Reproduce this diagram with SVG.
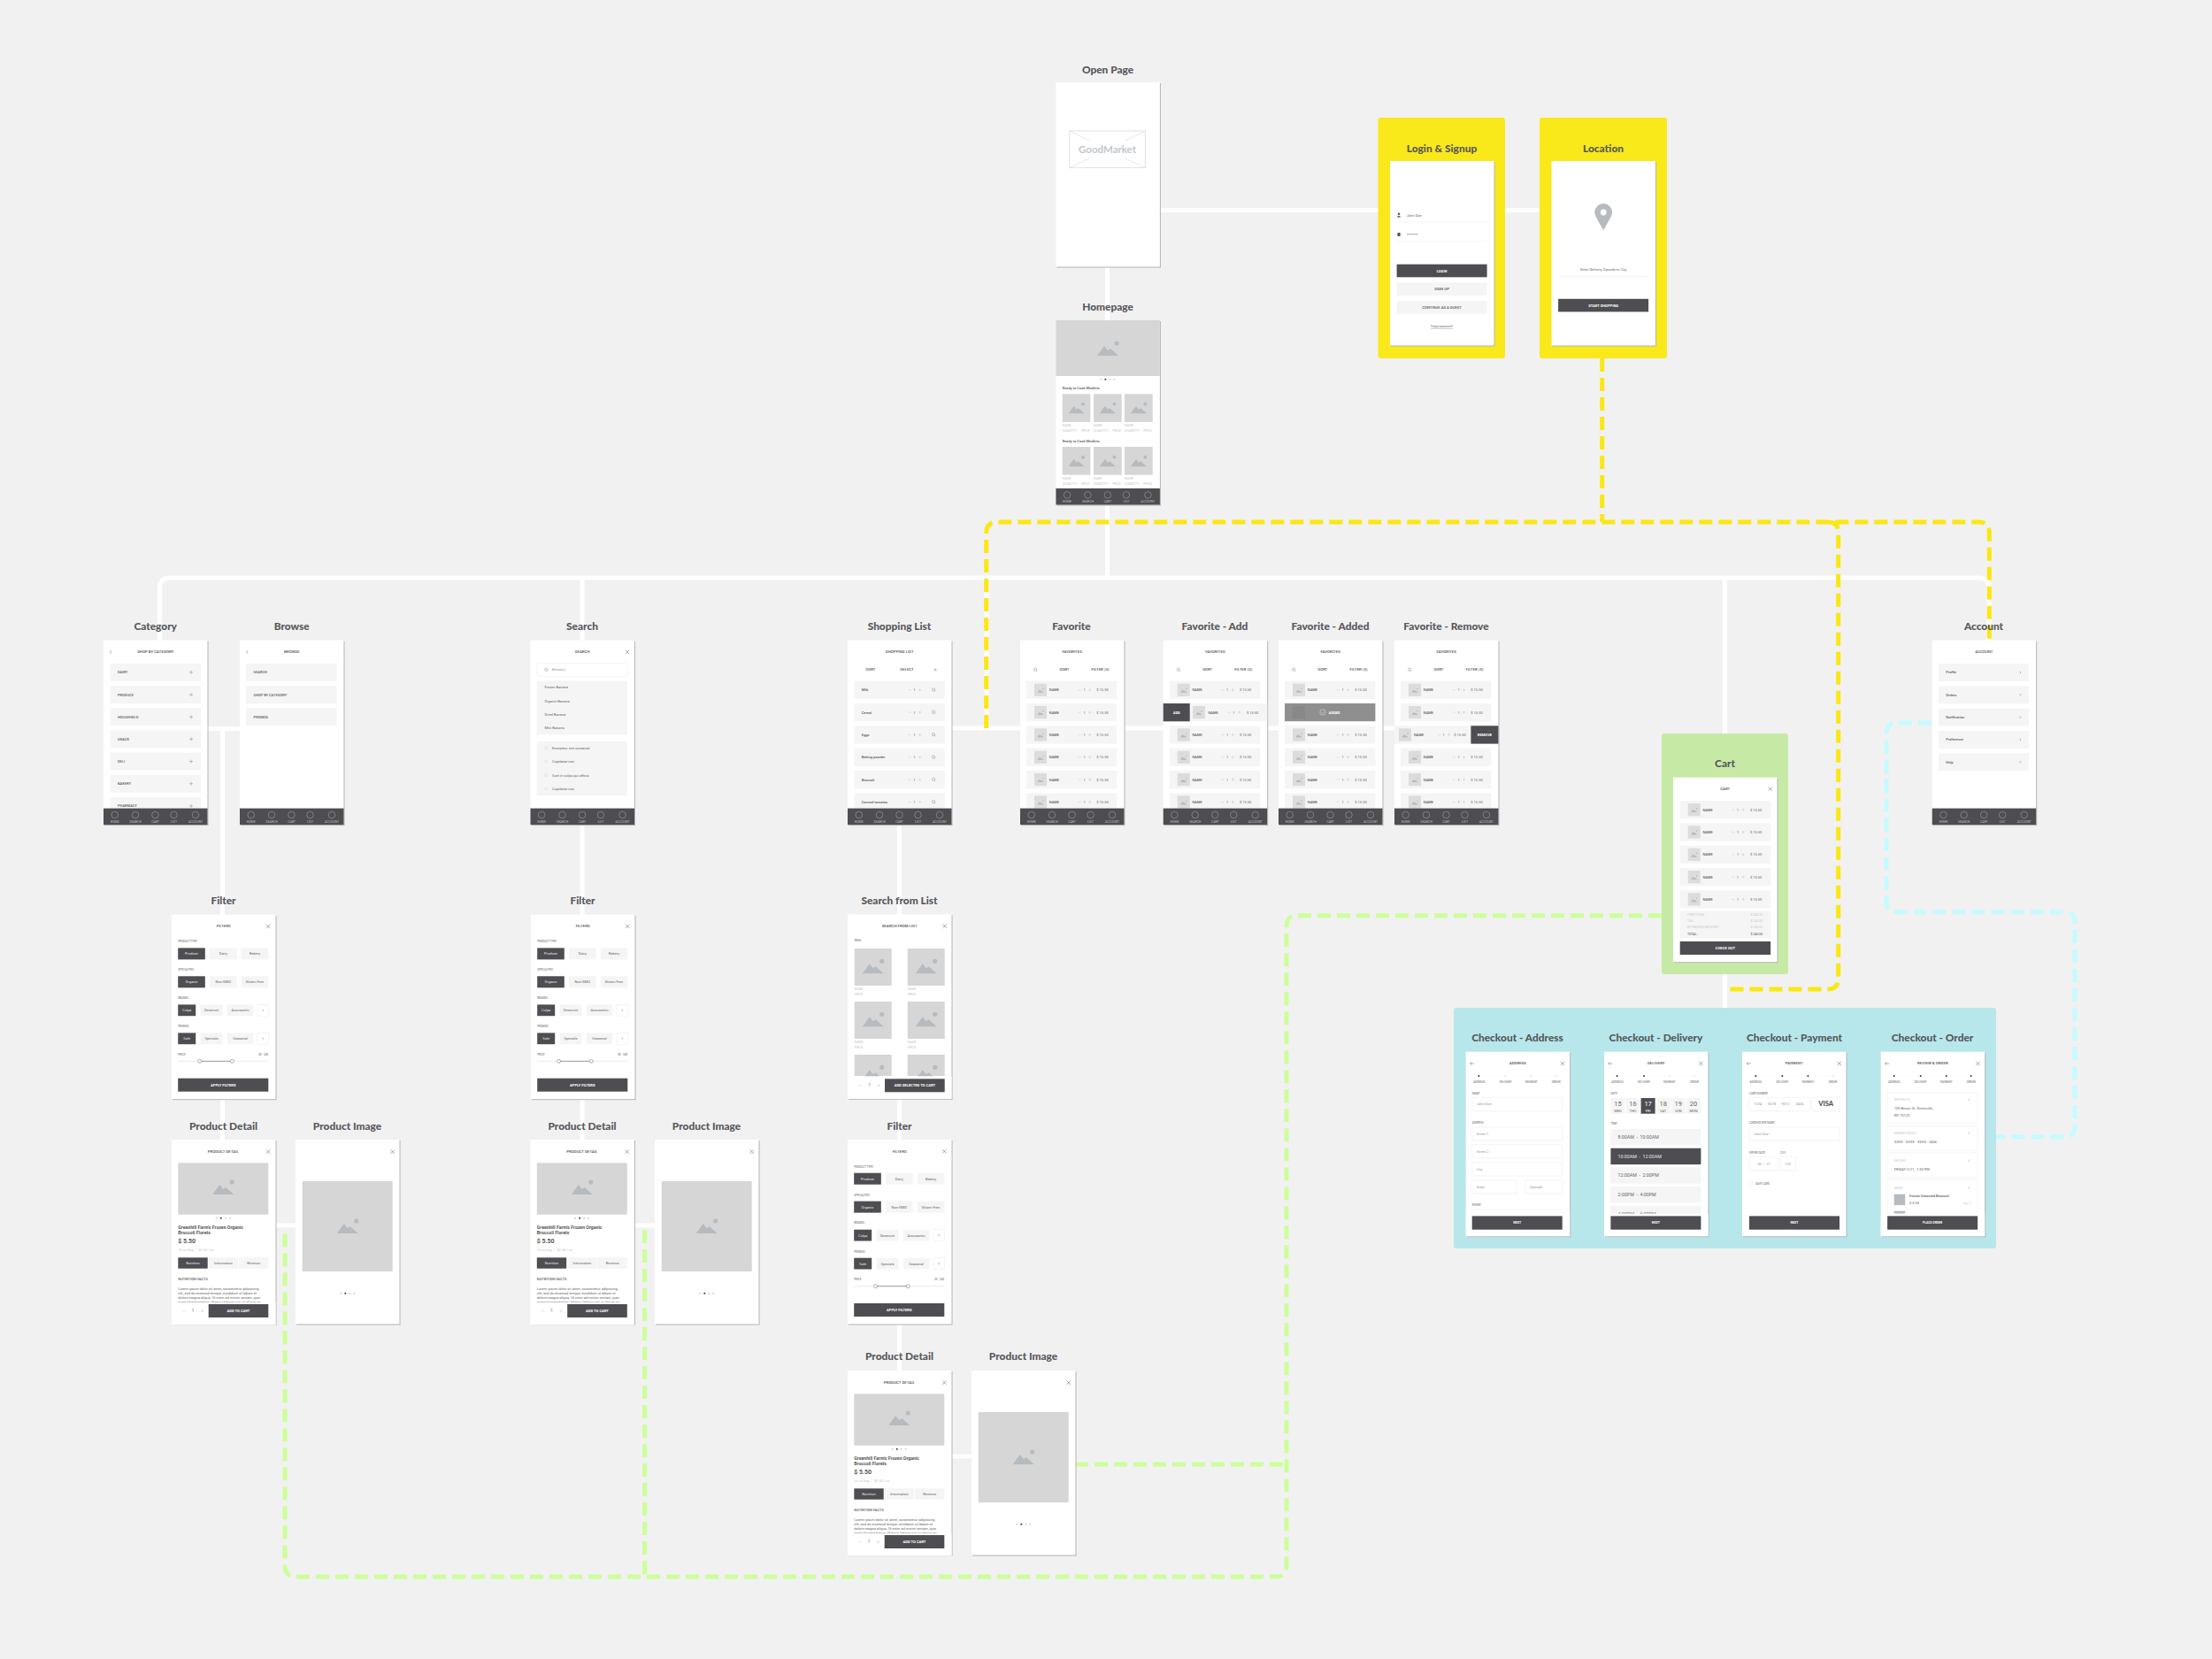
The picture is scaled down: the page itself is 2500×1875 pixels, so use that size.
<svg xmlns="http://www.w3.org/2000/svg" width="2500" height="1875" viewBox="0 0 2500 1875">
<style>
text{font-family:"Roboto","Liberation Sans",sans-serif;dominant-baseline:central;font-size:4px;fill:#666}
.t{font-family:"Lato","Liberation Sans",sans-serif;font-weight:900;font-size:11.9px;fill:#58585c;text-anchor:middle}
.h{font-weight:500;font-size:4.4px;fill:#555;text-anchor:middle}
.sb{font-weight:500;fill:#5c5c5c}
.m{text-anchor:middle}
.w{font-weight:700;fill:#fff;text-anchor:middle;font-size:4.1px}
.g{fill:#c6c9cc;font-size:3.5px}
.b{fill:#bdbdc0;font-size:3.5px;text-anchor:middle}
.lb{font-weight:500;font-size:3px;fill:#888}
.lbm{font-weight:500;font-size:3.1px;fill:#888;text-anchor:middle}
.dk{fill:#e8e8e8;text-anchor:middle}
.in{fill:#999}
.lo{font-size:4px}
.gh{font-weight:700;font-size:5.2px;fill:#555}
.pr{font-weight:700;font-size:7px;fill:#555}
.tm{font-size:5.3px}
.dn{font-size:7.5px;text-anchor:middle}
.nx{font-size:3.6px}
.d{fill:#4d4d52}.f{fill:#f5f5f5}.i{fill:#d6d6d6}
.o{fill:#fff;stroke:#ededed;stroke-width:.6}
.ln{stroke:#f0f0f0;stroke-width:.8;fill:none}
.c{fill:none;stroke-linecap:butt;stroke-linejoin:round}
.wh{stroke:#fff;stroke-width:5}
.ye{stroke:#fbe711;stroke-width:5;stroke-dasharray:15 7}
.gr{stroke:#ccff99;stroke-width:5;stroke-dasharray:15 7}
.cy{stroke:#c4fbff;stroke-width:5;stroke-dasharray:15 7}
</style>
<defs>
<rect id="sc0" x="1" y="1" width="117.5" height="208.5" fill="#b4b4b4"/>
<g id="sc"><use href="#sc0"/><rect width="117.5" height="208.5" fill="#fff"/></g>
<g id="mt" fill="#b6bbbf"><path d="M-12 7L-4-4L0 1L3-1L12 7Z"/><circle cx="10" cy="-7" r="2.6"/></g>
<g id="tb"><rect width="117.5" height="18.5" class="d"/><g fill="none" stroke="#c8c8cc" stroke-width=".4"><circle cx="12.7" cy="7.4" r="3.8"/><circle cx="36" cy="7.4" r="3.8"/><circle cx="58.5" cy="7.4" r="3.8"/><circle cx="79.5" cy="7.4" r="3.8"/><circle cx="104" cy="7.4" r="3.8"/></g></g>
<path id="x" d="M-2.2-2.2L2.2 2.2M-2.2 2.2L2.2-2.2" fill="none" stroke="#555" stroke-width=".5"/>
<path id="ch" d="M-.6-1.2L.6 0L-.6 1.2" fill="none" stroke="#666" stroke-width=".5"/>
<path id="bk" d="M1-2L-1 0L1 2" fill="none" stroke="#666" stroke-width=".5"/>
<path id="ar" d="M2.4 0H-2.2M-.4-1.8L-2.2 0L-.4 1.8" fill="none" stroke="#666" stroke-width=".5"/>
<path id="pl" d="M-2 0H2M0-2V2" fill="none" stroke="#888" stroke-width=".5"/>
<path id="pq" d="M-1.7 0H1.7M0-1.7V1.7" fill="none" stroke="#c4c4c4" stroke-width=".45"/>
<path id="mn" d="M-1.7 0H1.7" fill="none" stroke="#c4c4c4" stroke-width=".45"/>
<g id="q" fill="none" stroke="#666" stroke-width=".4"><circle cx="-.3" cy="-.3" r="1.6"/><path d="M.8.8L1.7 1.7"/></g>
<g id="ql" fill="none" stroke="#c8c8c8" stroke-width=".35"><circle cx="-.3" cy="-.3" r="1.6"/><path d="M.8.8L1.7 1.7"/></g>
<path id="pn" d="M-1.6 1.6L-1.3.5L.8-1.6L1.6-.8L-.5 1.3Z" fill="#dcdcdc"/>
<g id="th"><rect width="14" height="14.3" fill="#dcdcdc"/><use href="#mt" transform="translate(7,8) scale(.3)"/></g>
<g id="fr"><rect width="102.4" height="20.3" class="f"/><use href="#th" x="9" y="3"/><use href="#mn" x="60" y="10.15"/><use href="#pq" x="71.6" y="10.15"/></g>
<g id="lr"><rect width="102.4" height="20.3" class="f"/><use href="#mn" x="62.6" y="10.15"/><use href="#pq" x="74.3" y="10.15"/><use href="#q" x="90" y="10.15"/></g>
<g id="dt"><circle cx="0" r="1" fill="#cfcfcf"/><circle cx="5" r="1" fill="#333"/><circle cx="10" r="1" fill="#cfcfcf"/><circle cx="15" r="1" fill="#cfcfcf"/></g>
<rect id="cv" y="183" width="117.5" height="25.5" fill="#fff"/>
<g id="pg"><path d="M14.7 0H102" stroke="#eee" stroke-width=".3"/></g>
</defs>
<rect width="2500" height="1875" fill="#f1f1f1"/>
<g id="connectors">
<path class="c wh" d="M1311 237.5H1740M1251.5 301V652M192.4 653H2236Q2248 653 2248 665V724M180.4 724V665Q180.4 653 192.4 653M658 653V1288M1115 653V823M1075 823H1576M235 823.5H271M251.5 823V1288M311 1385H334M717 1385H740M1016.5 932V1549M1075 1646H1098M1949.5 653V1139"/>
<path class="c ye" d="M1810.7 405V590M1114.7 823V602Q1114.7 590 1126.7 590H2236.3Q2248.3 590 2248.3 602V724M2065.7 590Q2077.7 590 2077.7 602V1106Q2077.7 1118 2065.7 1118H1955"/>
<path class="c gr" d="M1878 1034.7H1466Q1454 1034.7 1454 1046.7V1770Q1454 1782 1442 1782H334Q322 1782 322 1770V1390M728.6 1390V1782M1215 1655H1454"/>
<path class="c cy" d="M2183 817H2144Q2132 817 2132 829V1018.7Q2132 1030.7 2144 1030.7H2333Q2345 1030.7 2345 1042.7V1273Q2345 1285 2333 1285H2256"/>
</g>
<rect id="panel-login" x="1557.5" y="133" width="143.5" height="272" rx="3" fill="#f9e81a"/>
<rect id="panel-location" x="1740" y="133" width="144" height="272" rx="3" fill="#f9e81a"/>
<rect id="panel-cart" x="1878" y="829" width="143" height="272" rx="3" fill="#c6eaa6"/>
<rect id="panel-checkout" x="1643" y="1139" width="613" height="272" rx="3" fill="#b7e7ea"/>

<g id="open-page"><text class="t" x="1252" y="78">Open Page</text>
<g transform="translate(1193.4,93)"><use href="#sc"/><rect x="15.3" y="55" width="85.7" height="41.6" fill="#fff" stroke="#e2e2e2" stroke-width="1"/><path d="M15.3 55L38 66M101 55L78 66M15.3 96.6L38 86M101 96.6L78 86" stroke="#e2e2e2" stroke-width=".8" fill="none"/><text x="58.1" y="75.8" class="m" style="font-family:Lato,sans-serif;font-weight:700;font-size:11.5px;fill:#c4c8cc">GoodMarket</text></g></g>

<g id="homepage"><text class="t" x="1252" y="346.3">Homepage</text>
<g transform="translate(1193.4,362)"><use href="#sc"/><rect width="117.5" height="63" class="i"/><use href="#mt" transform="translate(58.7,33)"/><use href="#dt" x="51" y="66.7"/>
<text class="sb" x="7.3" y="76.7">Ready to Cook Mealkits</text>
<g class="i"><rect x="7.3" y="83.3" width="31.7" height="31.7"/><rect x="42.6" y="83.3" width="31.7" height="31.7"/><rect x="77.6" y="83.3" width="31.7" height="31.7"/><rect x="7.3" y="143" width="31.7" height="31.7"/><rect x="42.6" y="143" width="31.7" height="31.7"/><rect x="77.6" y="143" width="31.7" height="31.7"/></g>
<use href="#mt" transform="translate(23.2,100) scale(.75)"/><use href="#mt" transform="translate(58.5,100) scale(.75)"/><use href="#mt" transform="translate(93.5,100) scale(.75)"/><use href="#mt" transform="translate(23.2,160) scale(.75)"/><use href="#mt" transform="translate(58.5,160) scale(.75)"/><use href="#mt" transform="translate(93.5,160) scale(.75)"/>
<text class="g" x="7.3" y="119">NAME</text><text class="g" x="42.6" y="119">NAME</text><text class="g" x="77.6" y="119">NAME</text>
<text class="g" x="7.3" y="124.7">QUANTITY</text><text class="g" x="28.5" y="124.7">PRICE</text><text class="g" x="42.6" y="124.7">QUANTITY</text><text class="g" x="63.8" y="124.7">PRICE</text><text class="g" x="77.6" y="124.7">QUANTITY</text><text class="g" x="98.8" y="124.7">PRICE</text>
<text class="sb" x="7.3" y="136.3">Ready to Cook Mealkits</text>
<text class="g" x="7.3" y="179">NAME</text><text class="g" x="42.6" y="179">NAME</text><text class="g" x="77.6" y="179">NAME</text>
<text class="g" x="7.3" y="184.7">QUANTITY</text><text class="g" x="28.5" y="184.7">PRICE</text><text class="g" x="42.6" y="184.7">QUANTITY</text><text class="g" x="63.8" y="184.7">PRICE</text><text class="g" x="77.6" y="184.7">QUANTITY</text><text class="g" x="98.8" y="184.7">PRICE</text>
<g transform="translate(0,190)"><use href="#tb"/><text class="b" x="12.7" y="15">HOME</text><text class="b" x="36" y="15">SEARCH</text><text class="b" x="58.5" y="15">CART</text><text class="b" x="79.5" y="15">LIST</text><text class="b" x="104" y="15">ACCOUNT</text></g></g></g>

<g id="login"><text class="t" x="1629.5" y="167.5">Login &amp; Signup</text>
<g transform="translate(1571,182)"><use href="#sc"/>
<circle cx="10" cy="59.8" r="1.3" fill="#555"/><path d="M7.8 63.4Q10 59.9 12.2 63.4Z" fill="#555"/><text x="18.8" y="61">John Doe</text><path class="ln" d="M7.6 69H109.6M7.6 90.7H109.6"/>
<rect x="8.4" y="81" width="3.2" height="4" rx=".5" fill="#555"/><text x="18.8" y="83.6" style="font-weight:700">*******</text>
<rect x="7.6" y="116.7" width="102" height="14.6" class="d"/><text class="w" x="58.6" y="124">LOGIN</text>
<rect x="7.6" y="137.4" width="102" height="14.6" class="f"/><text class="h" x="58.6" y="144.7">SIGN UP</text>
<rect x="7.6" y="158" width="102" height="14.6" class="f"/><text class="h" x="58.6" y="165.3" style="font-size:4.2px">CONTINUE AS A GUEST</text>
<text class="m" x="58.6" y="187" style="text-decoration:underline;font-size:3.1px">Forgot password?</text></g></g>

<g id="location"><text class="t" x="1812" y="167.5">Location</text>
<g transform="translate(1753.5,182)"><use href="#sc"/><path d="M58.7 78.5C55 71 48.7 62 48.7 58A10 10 0 0 1 68.7 58C68.7 62 62.4 71 58.7 78.5Z" fill="#b6bbbf"/><circle cx="58.7" cy="58" r="3.4" fill="#fff"/>
<text class="m" x="58.7" y="122.5">Enter Delivery Zipcode or City</text><path class="ln" d="M7.6 130.5H109.6"/>
<rect x="7.6" y="155.8" width="102" height="14.6" class="d"/><text class="w" x="58.6" y="163">START SHOPPING</text></g></g>

<g id="category"><text class="t" x="175.7" y="707.7">Category</text>
<g transform="translate(117,723.6)"><use href="#sc"/><use href="#bk" x="8.3" y="13.4"/><text class="h" x="58.7" y="13.4">SHOP BY CATEGORY</text>
<g class="f"><rect x="7.5" y="26.3" width="102.5" height="20"/><rect x="7.5" y="51.5" width="102.5" height="20"/><rect x="7.5" y="76.6" width="102.5" height="20"/><rect x="7.5" y="101.8" width="102.5" height="20"/><rect x="7.5" y="127" width="102.5" height="20"/><rect x="7.5" y="152.1" width="102.5" height="20"/><rect x="7.5" y="177.3" width="102.5" height="20"/></g>
<text class="sb" x="16" y="36.3">DAIRY</text><text class="sb" x="16" y="61.5">PRODUCE</text><text class="sb" x="16" y="86.6">HOUSEHOLD</text><text class="sb" x="16" y="111.8">SNACK</text><text class="sb" x="16" y="137">DELI</text><text class="sb" x="16" y="162.1">BAKERY</text><text class="sb" x="16" y="187.3">PHARMACY</text>
<use href="#pl" x="99" y="36.3"/><use href="#pl" x="99" y="61.5"/><use href="#pl" x="99" y="86.6"/><use href="#pl" x="99" y="111.8"/><use href="#pl" x="99" y="137"/><use href="#pl" x="99" y="162.1"/><use href="#pl" x="99" y="187.3"/>
<g transform="translate(0,190)"><use href="#tb"/><text class="b" x="12.7" y="15">HOME</text><text class="b" x="36" y="15">SEARCH</text><text class="b" x="58.5" y="15">CART</text><text class="b" x="79.5" y="15">LIST</text><text class="b" x="104" y="15">ACCOUNT</text></g></g></g>

<g id="browse"><text class="t" x="329.7" y="707.7">Browse</text>
<g transform="translate(271,723.6)"><use href="#sc"/><use href="#bk" x="8.3" y="13.4"/><text class="h" x="58.7" y="13.4">BROWSE</text>
<g class="f"><rect x="7" y="26.3" width="102.5" height="20"/><rect x="7" y="51.5" width="102.5" height="20"/><rect x="7" y="76.6" width="102.5" height="20"/></g>
<text class="sb" x="15.6" y="36.3">SEARCH</text><text class="sb" x="15.6" y="61.5">SHOP BY CATEGORY</text><text class="sb" x="15.6" y="86.6">PROMOS</text>
<g transform="translate(0,190)"><use href="#tb"/><text class="b" x="12.7" y="15">HOME</text><text class="b" x="36" y="15">SEARCH</text><text class="b" x="58.5" y="15">CART</text><text class="b" x="79.5" y="15">LIST</text><text class="b" x="104" y="15">ACCOUNT</text></g></g></g>

<g id="search"><text class="t" x="658" y="707.7">Search</text>
<g transform="translate(599.5,723.6)"><use href="#sc"/><text class="h" x="58.7" y="13.4">SEARCH</text><use href="#x" x="109.5" y="13.4"/>
<rect x="7.2" y="26" width="102.3" height="14.7" rx="2" class="o"/><use href="#q" x="18" y="33.4"/><text x="24.5" y="33.4" class="in">Banana</text><path d="M39.5 31V35.8" stroke="#888" stroke-width=".3"/>
<rect x="7.2" y="46" width="102.3" height="60.7" rx="2" class="f"/><rect x="7.2" y="114.4" width="102.3" height="61.3" rx="2" class="f"/>
<text x="16" y="53.4">Frozen Banana</text><text x="16" y="68.7">Organic Banana</text><text x="16" y="84">Dried Banana</text><text x="16" y="99.4">Mini Banana</text>
<use href="#ql" x="18" y="122"/><use href="#ql" x="18" y="137.4"/><use href="#ql" x="18" y="152.7"/><use href="#ql" x="18" y="168"/>
<text x="24.5" y="122">Excepteur sint occaecat</text><text x="24.5" y="137.4">Cupidatat non</text><text x="24.5" y="152.7">Sunt in culpa qui officia</text><text x="24.5" y="168">Cupidatat non</text>
<g transform="translate(0,190)"><use href="#tb"/><text class="b" x="12.7" y="15">HOME</text><text class="b" x="36" y="15">SEARCH</text><text class="b" x="58.5" y="15">CART</text><text class="b" x="79.5" y="15">LIST</text><text class="b" x="104" y="15">ACCOUNT</text></g></g></g>

<g id="shopping-list"><text class="t" x="1016.5" y="707.7">Shopping List</text>
<g transform="translate(958,723.6)"><use href="#sc"/><text class="h" x="58.7" y="13.4">SHOPPING LIST</text><text class="h" x="26" y="33.4">SORT</text><text class="h" x="67" y="33.4">SELECT</text><use href="#pl" x="99" y="33.4"/>
<g transform="translate(7.4,46)"><use href="#lr"/><text x="8.3" y="10.15" class="sb">Milk</text><text x="68" y="10.15" class="m">1</text></g>
<g transform="translate(7.4,71.3)"><use href="#lr"/><text x="8.3" y="10.15" class="sb">Cereal</text><text x="68" y="10.15" class="m">1</text></g>
<g transform="translate(7.4,96.7)"><use href="#lr"/><text x="8.3" y="10.15" class="sb">Eggs</text><text x="68" y="10.15" class="m">1</text></g>
<g transform="translate(7.4,122)"><use href="#lr"/><text x="8.3" y="10.15" class="sb">Baking powder</text><text x="68" y="10.15" class="m">1</text></g>
<g transform="translate(7.4,147.3)"><use href="#lr"/><text x="8.3" y="10.15" class="sb">Broccoli</text><text x="68" y="10.15" class="m">1</text></g>
<g transform="translate(7.4,172.7)"><use href="#lr"/><text x="8.3" y="10.15" class="sb">Canned tomatos</text><text x="68" y="10.15" class="m">1</text></g>
<g transform="translate(0,190)"><use href="#tb"/><text class="b" x="12.7" y="15">HOME</text><text class="b" x="36" y="15">SEARCH</text><text class="b" x="58.5" y="15">CART</text><text class="b" x="79.5" y="15">LIST</text><text class="b" x="104" y="15">ACCOUNT</text></g></g></g>

<g id="favorite"><text class="t" x="1211" y="707.7">Favorite</text>
<g transform="translate(1153,723.6)"><use href="#sc"/><text class="h" x="58.7" y="13.4">FAVORITES</text><use href="#q" x="17.4" y="33.4"/><text class="h" x="50" y="33.4">SORT</text><text class="h" x="90.5" y="33.4">FILTER (3)</text>
<g transform="translate(7,46)"><use href="#fr"/><text x="25.8" y="10.15" class="sb">NAME</text><text x="65.5" y="10.15" class="m">1</text><text x="86" y="10.15" class="m">$ 15.50</text></g>
<g transform="translate(7,71.3)"><use href="#fr"/><text x="25.8" y="10.15" class="sb">NAME</text><text x="65.5" y="10.15" class="m">1</text><text x="86" y="10.15" class="m">$ 15.50</text></g>
<g transform="translate(7,96.7)"><use href="#fr"/><text x="25.8" y="10.15" class="sb">NAME</text><text x="65.5" y="10.15" class="m">1</text><text x="86" y="10.15" class="m">$ 15.50</text></g>
<g transform="translate(7,122)"><use href="#fr"/><text x="25.8" y="10.15" class="sb">NAME</text><text x="65.5" y="10.15" class="m">1</text><text x="86" y="10.15" class="m">$ 15.50</text></g>
<g transform="translate(7,147.3)"><use href="#fr"/><text x="25.8" y="10.15" class="sb">NAME</text><text x="65.5" y="10.15" class="m">1</text><text x="86" y="10.15" class="m">$ 15.50</text></g>
<g transform="translate(7,172.7)"><use href="#fr"/><text x="25.8" y="10.15" class="sb">NAME</text><text x="65.5" y="10.15" class="m">1</text><text x="86" y="10.15" class="m">$ 15.50</text></g>
<g transform="translate(0,190)"><use href="#tb"/><text class="b" x="12.7" y="15">HOME</text><text class="b" x="36" y="15">SEARCH</text><text class="b" x="58.5" y="15">CART</text><text class="b" x="79.5" y="15">LIST</text><text class="b" x="104" y="15">ACCOUNT</text></g></g></g>

<g id="favorite-add"><text class="t" x="1373" y="707.7">Favorite - Add</text>
<g transform="translate(1314.7,723.6)"><use href="#sc"/><text class="h" x="58.7" y="13.4">FAVORITES</text><use href="#q" x="17.4" y="33.4"/><text class="h" x="50" y="33.4">SORT</text><text class="h" x="90.5" y="33.4">FILTER (3)</text>
<g transform="translate(7,46)"><use href="#fr"/><text x="25.8" y="10.15" class="sb">NAME</text><text x="65.5" y="10.15" class="m">1</text><text x="86" y="10.15" class="m">$ 15.50</text></g>
<g transform="translate(0,71.4)"><rect width="117.5" height="20.3" class="f"/><rect width="30" height="20.3" class="d"/><text class="w" x="15" y="10.15">ADD</text><use href="#th" x="33.3" y="3"/><text x="50.7" y="10.15" class="sb">NAME</text><use href="#mn" x="74.6" y="10.15"/><text x="79.6" y="10.15" class="m">1</text><use href="#pq" x="86" y="10.15"/><text x="101" y="10.15" class="m">$ 15.50</text></g>
<g transform="translate(7,96.7)"><use href="#fr"/><text x="25.8" y="10.15" class="sb">NAME</text><text x="65.5" y="10.15" class="m">1</text><text x="86" y="10.15" class="m">$ 15.50</text></g>
<g transform="translate(7,122)"><use href="#fr"/><text x="25.8" y="10.15" class="sb">NAME</text><text x="65.5" y="10.15" class="m">1</text><text x="86" y="10.15" class="m">$ 15.50</text></g>
<g transform="translate(7,147.3)"><use href="#fr"/><text x="25.8" y="10.15" class="sb">NAME</text><text x="65.5" y="10.15" class="m">1</text><text x="86" y="10.15" class="m">$ 15.50</text></g>
<g transform="translate(7,172.7)"><use href="#fr"/><text x="25.8" y="10.15" class="sb">NAME</text><text x="65.5" y="10.15" class="m">1</text><text x="86" y="10.15" class="m">$ 15.50</text></g>
<g transform="translate(0,190)"><use href="#tb"/><text class="b" x="12.7" y="15">HOME</text><text class="b" x="36" y="15">SEARCH</text><text class="b" x="58.5" y="15">CART</text><text class="b" x="79.5" y="15">LIST</text><text class="b" x="104" y="15">ACCOUNT</text></g></g></g>

<g id="favorite-added"><text class="t" x="1503.5" y="707.7">Favorite - Added</text>
<g transform="translate(1445,723.6)"><use href="#sc"/><text class="h" x="58.7" y="13.4">FAVORITES</text><use href="#q" x="17.4" y="33.4"/><text class="h" x="50" y="33.4">SORT</text><text class="h" x="90.5" y="33.4">FILTER (3)</text>
<g transform="translate(7,46)"><use href="#fr"/><text x="25.8" y="10.15" class="sb">NAME</text><text x="65.5" y="10.15" class="m">1</text><text x="86" y="10.15" class="m">$ 15.50</text></g>
<g transform="translate(7,71.3)"><rect width="102.4" height="20.3" fill="#8f8f8f"/><rect x="9" y="3" width="14" height="14.3" fill="#888"/><circle cx="43" cy="10.15" r="3.2" fill="none" stroke="#fff" stroke-width=".4"/><path d="M41.5 10.2L42.7 11.4L44.6 9" fill="none" stroke="#fff" stroke-width=".4"/><text class="w" x="56" y="10.15">ADDED</text></g>
<g transform="translate(7,96.7)"><use href="#fr"/><text x="25.8" y="10.15" class="sb">NAME</text><text x="65.5" y="10.15" class="m">1</text><text x="86" y="10.15" class="m">$ 15.50</text></g>
<g transform="translate(7,122)"><use href="#fr"/><text x="25.8" y="10.15" class="sb">NAME</text><text x="65.5" y="10.15" class="m">1</text><text x="86" y="10.15" class="m">$ 15.50</text></g>
<g transform="translate(7,147.3)"><use href="#fr"/><text x="25.8" y="10.15" class="sb">NAME</text><text x="65.5" y="10.15" class="m">1</text><text x="86" y="10.15" class="m">$ 15.50</text></g>
<g transform="translate(7,172.7)"><use href="#fr"/><text x="25.8" y="10.15" class="sb">NAME</text><text x="65.5" y="10.15" class="m">1</text><text x="86" y="10.15" class="m">$ 15.50</text></g>
<g transform="translate(0,190)"><use href="#tb"/><text class="b" x="12.7" y="15">HOME</text><text class="b" x="36" y="15">SEARCH</text><text class="b" x="58.5" y="15">CART</text><text class="b" x="79.5" y="15">LIST</text><text class="b" x="104" y="15">ACCOUNT</text></g></g></g>

<g id="favorite-remove"><text class="t" x="1634.5" y="707.7">Favorite - Remove</text>
<g transform="translate(1576,723.6)"><use href="#sc"/><text class="h" x="58.7" y="13.4">FAVORITES</text><use href="#q" x="17.4" y="33.4"/><text class="h" x="50" y="33.4">SORT</text><text class="h" x="90.5" y="33.4">FILTER (3)</text>
<g transform="translate(7,46)"><use href="#fr"/><text x="25.8" y="10.15" class="sb">NAME</text><text x="65.5" y="10.15" class="m">1</text><text x="86" y="10.15" class="m">$ 15.50</text></g>
<g transform="translate(7,71.3)"><use href="#fr"/><text x="25.8" y="10.15" class="sb">NAME</text><text x="65.5" y="10.15" class="m">1</text><text x="86" y="10.15" class="m">$ 15.50</text></g>
<g transform="translate(0,96.7)"><rect width="117.5" height="20.3" class="f"/><use href="#th" x="5" y="3"/><text x="22" y="10.15" class="sb">NAME</text><use href="#mn" x="50.6" y="10.15"/><text x="55.6" y="10.15" class="m">1</text><use href="#pq" x="61.6" y="10.15"/><text x="74" y="10.15" class="m">$ 15.50</text><rect x="86.4" width="31.1" height="20.3" class="d"/><text class="w" x="102" y="10.15">REMOVE</text></g>
<g transform="translate(7,122)"><use href="#fr"/><text x="25.8" y="10.15" class="sb">NAME</text><text x="65.5" y="10.15" class="m">1</text><text x="86" y="10.15" class="m">$ 15.50</text></g>
<g transform="translate(7,147.3)"><use href="#fr"/><text x="25.8" y="10.15" class="sb">NAME</text><text x="65.5" y="10.15" class="m">1</text><text x="86" y="10.15" class="m">$ 15.50</text></g>
<g transform="translate(7,172.7)"><use href="#fr"/><text x="25.8" y="10.15" class="sb">NAME</text><text x="65.5" y="10.15" class="m">1</text><text x="86" y="10.15" class="m">$ 15.50</text></g>
<g transform="translate(0,190)"><use href="#tb"/><text class="b" x="12.7" y="15">HOME</text><text class="b" x="36" y="15">SEARCH</text><text class="b" x="58.5" y="15">CART</text><text class="b" x="79.5" y="15">LIST</text><text class="b" x="104" y="15">ACCOUNT</text></g></g></g>

<g id="account"><text class="t" x="2242" y="707.7">Account</text>
<g transform="translate(2183.7,723.6)"><use href="#sc"/><text class="h" x="58.7" y="13.4">ACCOUNT</text>
<g class="f"><rect x="7.3" y="26.4" width="102" height="20"/><rect x="7.3" y="51.7" width="102" height="20"/><rect x="7.3" y="77" width="102" height="20"/><rect x="7.3" y="102.4" width="102" height="20"/><rect x="7.3" y="127.7" width="102" height="20"/></g>
<text class="sb" x="15.6" y="36.4">Profile</text><text class="sb" x="15.6" y="61.7">Orders</text><text class="sb" x="15.6" y="87">Notification</text><text class="sb" x="15.6" y="112.4">Preference</text><text class="sb" x="15.6" y="137.7">Help</text>
<use href="#ch" x="99.6" y="36.4"/><use href="#ch" x="99.6" y="61.7"/><use href="#ch" x="99.6" y="87"/><use href="#ch" x="99.6" y="112.4"/><use href="#ch" x="99.6" y="137.7"/>
<g transform="translate(0,190)"><use href="#tb"/><text class="b" x="12.7" y="15">HOME</text><text class="b" x="36" y="15">SEARCH</text><text class="b" x="58.5" y="15">CART</text><text class="b" x="79.5" y="15">LIST</text><text class="b" x="104" y="15">ACCOUNT</text></g></g></g>

<g id="cart"><text class="t" x="1949.5" y="862.7">Cart</text>
<g transform="translate(1891,878.7)"><use href="#sc"/><text class="h" x="58.7" y="13">CART</text><use href="#x" x="109.7" y="13"/>
<g transform="translate(7.7,26.3)"><use href="#fr"/><text x="25.8" y="10.15" class="sb">NAME</text><text x="65.5" y="10.15" class="m">1</text><text x="86" y="10.15" class="m">$ 15.50</text></g>
<g transform="translate(7.7,51.6)"><use href="#fr"/><text x="25.8" y="10.15" class="sb">NAME</text><text x="65.5" y="10.15" class="m">1</text><text x="86" y="10.15" class="m">$ 15.50</text></g>
<g transform="translate(7.7,77)"><use href="#fr"/><text x="25.8" y="10.15" class="sb">NAME</text><text x="65.5" y="10.15" class="m">1</text><text x="86" y="10.15" class="m">$ 15.50</text></g>
<g transform="translate(7.7,102.3)"><use href="#fr"/><text x="25.8" y="10.15" class="sb">NAME</text><text x="65.5" y="10.15" class="m">1</text><text x="86" y="10.15" class="m">$ 15.50</text></g>
<g transform="translate(7.7,127.6)"><use href="#fr"/><text x="25.8" y="10.15" class="sb">NAME</text><text x="65.5" y="10.15" class="m">1</text><text x="86" y="10.15" class="m">$ 15.50</text></g>
<rect x="7.7" y="150.6" width="102.4" height="31.4" class="f"/>
<text class="g" x="16" y="155.6">ITEM TOTAL :</text><text class="g" x="16" y="162.3">TAX :</text><text class="g" x="16" y="169">ESTIMATED DELIVERY :</text><text class="g" x="101" y="155.6" text-anchor="end">$ 245.50</text><text class="g" x="101" y="162.3" text-anchor="end">$ 245.50</text><text class="g" x="101" y="169" text-anchor="end">$ 245.50</text>
<text x="16" y="177.3" style="fill:#444;font-size:3.5px">TOTAL :</text><text x="101" y="177.3" text-anchor="end" style="fill:#444;font-size:3.5px">$ 245.50</text>
<rect x="7.7" y="185.3" width="102.4" height="15" class="d"/><text class="w" x="58.9" y="192.8">CHECK OUT</text></g></g>

<g id="filter-1"><text class="t" x="252.5" y="1017.8">Filter</text>
<g transform="translate(194,1033.7)"><use href="#sc"/><text class="h" x="58.7" y="13.3">FILTERS</text><use href="#x" x="109.3" y="13.3"/>
<text class="lb" x="7.2" y="30.7">PRODUCT TYPE</text><rect x="7.2" y="37.7" width="30.6" height="13" class="d"/><rect x="43" y="37.7" width="30.7" height="13" class="f"/><rect x="78.7" y="37.7" width="30.6" height="13" class="f"/><text class="dk" x="22.5" y="44.2">Produce</text><text class="m" x="58.3" y="44.2">Dairy</text><text class="m" x="94" y="44.2">Bakery</text>
<text class="lb" x="7.2" y="62.5">SPECIALTIES</text><rect x="7.2" y="69.6" width="30.6" height="13" class="d"/><rect x="43" y="69.6" width="30.7" height="13" class="f"/><rect x="78.7" y="69.6" width="30.6" height="13" class="f"/><text class="dk" x="22.5" y="76.1">Organic</text><text class="m" x="58.3" y="76.1">Non-GMO</text><text class="m" x="94" y="76.1">Gluten Free</text>
<text class="lb" x="7.2" y="94.4">BRANDS</text><rect x="7.2" y="101.7" width="20" height="12.8" class="d"/><rect x="32.5" y="101.7" width="25" height="12.8" class="f"/><rect x="62.8" y="101.7" width="29.4" height="12.8" class="f"/><rect x="97" y="101.7" width="12.3" height="12.8" class="o"/><use href="#ch" x="103.2" y="108.1"/><text class="dk" x="17.2" y="108.1">Culpa</text><text class="m" x="45" y="108.1">Deserunt</text><text class="m" x="77.5" y="108.1">Accusantiu</text>
<text class="lb" x="7.2" y="126.5">PROMOS</text><rect x="7.2" y="133.7" width="20" height="12.8" class="d"/><rect x="32.5" y="133.7" width="25" height="12.8" class="f"/><rect x="62.8" y="133.7" width="29.4" height="12.8" class="f"/><rect x="97" y="133.7" width="12.3" height="12.8" class="o"/><use href="#ch" x="103.2" y="140.1"/><text class="dk" x="17.2" y="140.1">Sale</text><text class="m" x="45" y="140.1">Specials</text><text class="m" x="77.5" y="140.1">Seasonal</text>
<text class="lb" x="7.2" y="158.4">PRICE</text><text class="lb" x="109.3" y="158.4" text-anchor="end">$5 - $45</text>
<path d="M7.2 165.7H109.3" stroke="#ddd" stroke-width=".6"/><path d="M31.6 165.7H68.3" stroke="#777" stroke-width=".7"/><circle cx="31.6" cy="165.7" r="2" fill="#fff" stroke="#666" stroke-width=".5"/><circle cx="68.3" cy="165.7" r="2" fill="#fff" stroke="#666" stroke-width=".5"/>
<rect x="7.2" y="185" width="102.1" height="15" class="d"/><text class="w" x="58.3" y="192.5">APPLY FILTERS</text></g></g>

<g id="filter-2"><text class="t" x="658.5" y="1017.8">Filter</text>
<g transform="translate(600,1033.7)"><use href="#sc"/><text class="h" x="58.7" y="13.3">FILTERS</text><use href="#x" x="109.3" y="13.3"/>
<text class="lb" x="7.2" y="30.7">PRODUCT TYPE</text><rect x="7.2" y="37.7" width="30.6" height="13" class="d"/><rect x="43" y="37.7" width="30.7" height="13" class="f"/><rect x="78.7" y="37.7" width="30.6" height="13" class="f"/><text class="dk" x="22.5" y="44.2">Produce</text><text class="m" x="58.3" y="44.2">Dairy</text><text class="m" x="94" y="44.2">Bakery</text>
<text class="lb" x="7.2" y="62.5">SPECIALTIES</text><rect x="7.2" y="69.6" width="30.6" height="13" class="d"/><rect x="43" y="69.6" width="30.7" height="13" class="f"/><rect x="78.7" y="69.6" width="30.6" height="13" class="f"/><text class="dk" x="22.5" y="76.1">Organic</text><text class="m" x="58.3" y="76.1">Non-GMO</text><text class="m" x="94" y="76.1">Gluten Free</text>
<text class="lb" x="7.2" y="94.4">BRANDS</text><rect x="7.2" y="101.7" width="20" height="12.8" class="d"/><rect x="32.5" y="101.7" width="25" height="12.8" class="f"/><rect x="62.8" y="101.7" width="29.4" height="12.8" class="f"/><rect x="97" y="101.7" width="12.3" height="12.8" class="o"/><use href="#ch" x="103.2" y="108.1"/><text class="dk" x="17.2" y="108.1">Culpa</text><text class="m" x="45" y="108.1">Deserunt</text><text class="m" x="77.5" y="108.1">Accusantiu</text>
<text class="lb" x="7.2" y="126.5">PROMOS</text><rect x="7.2" y="133.7" width="20" height="12.8" class="d"/><rect x="32.5" y="133.7" width="25" height="12.8" class="f"/><rect x="62.8" y="133.7" width="29.4" height="12.8" class="f"/><rect x="97" y="133.7" width="12.3" height="12.8" class="o"/><use href="#ch" x="103.2" y="140.1"/><text class="dk" x="17.2" y="140.1">Sale</text><text class="m" x="45" y="140.1">Specials</text><text class="m" x="77.5" y="140.1">Seasonal</text>
<text class="lb" x="7.2" y="158.4">PRICE</text><text class="lb" x="109.3" y="158.4" text-anchor="end">$5 - $45</text>
<path d="M7.2 165.7H109.3" stroke="#ddd" stroke-width=".6"/><path d="M31.6 165.7H68.3" stroke="#777" stroke-width=".7"/><circle cx="31.6" cy="165.7" r="2" fill="#fff" stroke="#666" stroke-width=".5"/><circle cx="68.3" cy="165.7" r="2" fill="#fff" stroke="#666" stroke-width=".5"/>
<rect x="7.2" y="185" width="102.1" height="15" class="d"/><text class="w" x="58.3" y="192.5">APPLY FILTERS</text></g></g>

<g id="filter-3"><text class="t" x="1016.5" y="1272">Filter</text>
<g transform="translate(958,1288)"><use href="#sc"/><text class="h" x="58.7" y="13.3">FILTERS</text><use href="#x" x="109.3" y="13.3"/>
<text class="lb" x="7.2" y="30.7">PRODUCT TYPE</text><rect x="7.2" y="37.7" width="30.6" height="13" class="d"/><rect x="43" y="37.7" width="30.7" height="13" class="f"/><rect x="78.7" y="37.7" width="30.6" height="13" class="f"/><text class="dk" x="22.5" y="44.2">Produce</text><text class="m" x="58.3" y="44.2">Dairy</text><text class="m" x="94" y="44.2">Bakery</text>
<text class="lb" x="7.2" y="62.5">SPECIALTIES</text><rect x="7.2" y="69.6" width="30.6" height="13" class="d"/><rect x="43" y="69.6" width="30.7" height="13" class="f"/><rect x="78.7" y="69.6" width="30.6" height="13" class="f"/><text class="dk" x="22.5" y="76.1">Organic</text><text class="m" x="58.3" y="76.1">Non-GMO</text><text class="m" x="94" y="76.1">Gluten Free</text>
<text class="lb" x="7.2" y="94.4">BRANDS</text><rect x="7.2" y="101.7" width="20" height="12.8" class="d"/><rect x="32.5" y="101.7" width="25" height="12.8" class="f"/><rect x="62.8" y="101.7" width="29.4" height="12.8" class="f"/><rect x="97" y="101.7" width="12.3" height="12.8" class="o"/><use href="#ch" x="103.2" y="108.1"/><text class="dk" x="17.2" y="108.1">Culpa</text><text class="m" x="45" y="108.1">Deserunt</text><text class="m" x="77.5" y="108.1">Accusantiu</text>
<text class="lb" x="7.2" y="126.5">PROMOS</text><rect x="7.2" y="133.7" width="20" height="12.8" class="d"/><rect x="32.5" y="133.7" width="25" height="12.8" class="f"/><rect x="62.8" y="133.7" width="29.4" height="12.8" class="f"/><rect x="97" y="133.7" width="12.3" height="12.8" class="o"/><use href="#ch" x="103.2" y="140.1"/><text class="dk" x="17.2" y="140.1">Sale</text><text class="m" x="45" y="140.1">Specials</text><text class="m" x="77.5" y="140.1">Seasonal</text>
<text class="lb" x="7.2" y="158.4">PRICE</text><text class="lb" x="109.3" y="158.4" text-anchor="end">$5 - $45</text>
<path d="M7.2 165.7H109.3" stroke="#ddd" stroke-width=".6"/><path d="M31.6 165.7H68.3" stroke="#777" stroke-width=".7"/><circle cx="31.6" cy="165.7" r="2" fill="#fff" stroke="#666" stroke-width=".5"/><circle cx="68.3" cy="165.7" r="2" fill="#fff" stroke="#666" stroke-width=".5"/>
<rect x="7.2" y="185" width="102.1" height="15" class="d"/><text class="w" x="58.3" y="192.5">APPLY FILTERS</text></g></g>

<g id="search-from-list"><text class="t" x="1016.5" y="1017.8">Search from List</text>
<g transform="translate(958,1033.3)"><use href="#sc"/><text class="h" x="58.7" y="13.4">SEARCH FROM LIST</text><use href="#x" x="109.7" y="13.4"/><text x="7.7" y="29.7">Milk</text>
<g class="i"><rect x="7.7" y="38.7" width="42" height="42"/><rect x="67.7" y="38.7" width="42" height="42"/><rect x="7.7" y="98.7" width="42" height="42"/><rect x="67.7" y="98.7" width="42" height="42"/><rect x="7.7" y="158.7" width="42" height="24"/><rect x="67.7" y="158.7" width="42" height="24"/></g>
<use href="#mt" transform="translate(28.7,60)"/><use href="#mt" transform="translate(88.7,60)"/><use href="#mt" transform="translate(28.7,120)"/><use href="#mt" transform="translate(88.7,120)"/><use href="#mt" transform="translate(28.7,180)"/><use href="#mt" transform="translate(88.7,180)"/>
<text class="g" x="7.7" y="84.7">NAME</text><text class="g" x="67.7" y="84.7">NAME</text><text class="g" x="7.7" y="90.3">PRICE</text><text class="g" x="67.7" y="90.3">PRICE</text><text class="g" x="7.7" y="144.7">NAME</text><text class="g" x="67.7" y="144.7">NAME</text><text class="g" x="7.7" y="150.3">PRICE</text><text class="g" x="67.7" y="150.3">PRICE</text>
<use href="#cv"/><use href="#mn" x="14" y="193.7"/><text class="m" x="24.7" y="193.7" style="font-size:4.5px">1</text><use href="#pq" x="35" y="193.7"/><rect x="42" y="186" width="67.7" height="15" class="d"/><text class="w" x="75.8" y="193.5">ADD SELECTED TO CART</text></g></g>

<g id="product-detail-1"><text class="t" x="252.5" y="1272.3">Product Detail</text>
<g transform="translate(194,1288)"><use href="#sc"/><text class="h" x="58.3" y="13.7">PRODUCT DETAIL</text><use href="#x" x="109.3" y="13.7"/><rect x="7.3" y="26.3" width="102" height="58.4" class="i"/><use href="#mt" transform="translate(58.3,55)"/><use href="#dt" x="50.7" y="88.7"/>
<text x="7.3" y="98.7" class="gh">Greenhill Farm's Frozen Organic</text><text x="7.3" y="105.3" class="gh">Broccoli Florets</text><text x="7.3" y="115" class="pr">$ 5.50</text><text class="g" x="7.3" y="124.7" xml:space="preserve" style="font-size:4px">16 oz bag  |  $0.34 / oz</text>
<rect x="7.3" y="133.3" width="33.4" height="12.4" class="d"/><rect x="41.7" y="133.3" width="33.3" height="12.4" class="f"/><rect x="76" y="133.3" width="33.3" height="12.4" class="f"/><text class="dk" x="24" y="139.5">Nutrition</text><text class="m" x="58.3" y="139.5">Information</text><text class="m" x="92.7" y="139.5">Reviews</text>
<text class="sb" x="7.3" y="157.3">NUTRITION FACTS</text><text x="7.3" y="168" class="lo">Lorem ipsum dolor sit amet, consectetur adipiscing</text><text x="7.3" y="173" class="lo">elit, sed do eiusmod tempor incididunt ut labore et</text><text x="7.3" y="178.3" class="lo">dolore magna aliqua. Ut enim ad minim veniam, quis</text><text x="7.3" y="183" class="lo">nostrud exercitation ullamco laboris nisi ut aliquip ex</text>
<use href="#cv" y="1"/><use href="#mn" x="14" y="193.7"/><text class="m" x="24" y="193.7" style="font-size:4.5px">1</text><use href="#pq" x="34.7" y="193.7"/><rect x="41.7" y="186" width="67.6" height="15" class="d"/><text class="w" x="75.5" y="193.5">ADD TO CART</text></g></g>

<g id="product-detail-2"><text class="t" x="658" y="1272.3">Product Detail</text>
<g transform="translate(599.5,1288)"><use href="#sc"/><text class="h" x="58.3" y="13.7">PRODUCT DETAIL</text><use href="#x" x="109.3" y="13.7"/><rect x="7.3" y="26.3" width="102" height="58.4" class="i"/><use href="#mt" transform="translate(58.3,55)"/><use href="#dt" x="50.7" y="88.7"/>
<text x="7.3" y="98.7" class="gh">Greenhill Farm's Frozen Organic</text><text x="7.3" y="105.3" class="gh">Broccoli Florets</text><text x="7.3" y="115" class="pr">$ 5.50</text><text class="g" x="7.3" y="124.7" xml:space="preserve" style="font-size:4px">16 oz bag  |  $0.34 / oz</text>
<rect x="7.3" y="133.3" width="33.4" height="12.4" class="d"/><rect x="41.7" y="133.3" width="33.3" height="12.4" class="f"/><rect x="76" y="133.3" width="33.3" height="12.4" class="f"/><text class="dk" x="24" y="139.5">Nutrition</text><text class="m" x="58.3" y="139.5">Information</text><text class="m" x="92.7" y="139.5">Reviews</text>
<text class="sb" x="7.3" y="157.3">NUTRITION FACTS</text><text x="7.3" y="168" class="lo">Lorem ipsum dolor sit amet, consectetur adipiscing</text><text x="7.3" y="173" class="lo">elit, sed do eiusmod tempor incididunt ut labore et</text><text x="7.3" y="178.3" class="lo">dolore magna aliqua. Ut enim ad minim veniam, quis</text><text x="7.3" y="183" class="lo">nostrud exercitation ullamco laboris nisi ut aliquip ex</text>
<use href="#cv" y="1"/><use href="#mn" x="14" y="193.7"/><text class="m" x="24" y="193.7" style="font-size:4.5px">1</text><use href="#pq" x="34.7" y="193.7"/><rect x="41.7" y="186" width="67.6" height="15" class="d"/><text class="w" x="75.5" y="193.5">ADD TO CART</text></g></g>

<g id="product-detail-3"><text class="t" x="1016.5" y="1532">Product Detail</text>
<g transform="translate(958,1549)"><use href="#sc"/><text class="h" x="58.3" y="13.7">PRODUCT DETAIL</text><use href="#x" x="109.3" y="13.7"/><rect x="7.3" y="26.3" width="102" height="58.4" class="i"/><use href="#mt" transform="translate(58.3,55)"/><use href="#dt" x="50.7" y="88.7"/>
<text x="7.3" y="98.7" class="gh">Greenhill Farm's Frozen Organic</text><text x="7.3" y="105.3" class="gh">Broccoli Florets</text><text x="7.3" y="115" class="pr">$ 5.50</text><text class="g" x="7.3" y="124.7" xml:space="preserve" style="font-size:4px">16 oz bag  |  $0.34 / oz</text>
<rect x="7.3" y="133.3" width="33.4" height="12.4" class="d"/><rect x="41.7" y="133.3" width="33.3" height="12.4" class="f"/><rect x="76" y="133.3" width="33.3" height="12.4" class="f"/><text class="dk" x="24" y="139.5">Nutrition</text><text class="m" x="58.3" y="139.5">Information</text><text class="m" x="92.7" y="139.5">Reviews</text>
<text class="sb" x="7.3" y="157.3">NUTRITION FACTS</text><text x="7.3" y="168" class="lo">Lorem ipsum dolor sit amet, consectetur adipiscing</text><text x="7.3" y="173" class="lo">elit, sed do eiusmod tempor incididunt ut labore et</text><text x="7.3" y="178.3" class="lo">dolore magna aliqua. Ut enim ad minim veniam, quis</text><text x="7.3" y="183" class="lo">nostrud exercitation ullamco laboris nisi ut aliquip ex</text>
<use href="#cv" y="1"/><use href="#mn" x="14" y="193.7"/><text class="m" x="24" y="193.7" style="font-size:4.5px">1</text><use href="#pq" x="34.7" y="193.7"/><rect x="41.7" y="186" width="67.6" height="15" class="d"/><text class="w" x="75.5" y="193.5">ADD TO CART</text></g></g>

<g id="product-image-1"><text class="t" x="392.5" y="1272.3">Product Image</text>
<g transform="translate(334,1288)"><use href="#sc"/><use href="#x" x="109.7" y="13.7"/><rect x="7.7" y="47" width="102" height="102" class="i"/><use href="#mt" transform="translate(58.7,99)"/><use href="#dt" x="51.3" y="173.7"/></g></g>
<g id="product-image-2"><text class="t" x="798.5" y="1272.3">Product Image</text>
<g transform="translate(740,1288)"><use href="#sc"/><use href="#x" x="109.7" y="13.7"/><rect x="7.7" y="47" width="102" height="102" class="i"/><use href="#mt" transform="translate(58.7,99)"/><use href="#dt" x="51.3" y="173.7"/></g></g>
<g id="product-image-3"><text class="t" x="1156.5" y="1532">Product Image</text>
<g transform="translate(1098,1549)"><use href="#sc"/><use href="#x" x="109.7" y="13.7"/><rect x="7.7" y="47" width="102" height="102" class="i"/><use href="#mt" transform="translate(58.7,99)"/><use href="#dt" x="51.3" y="173.7"/></g></g>

<g id="checkout-address"><text class="t" x="1715" y="1172.7">Checkout - Address</text>
<g transform="translate(1656.7,1188.7)"><use href="#sc"/><use href="#ar" x="7" y="13.3"/><text class="h" x="58.7" y="13">ADDRESS</text><use href="#x" x="109.4" y="13.3"/>
<use href="#pg" y="27.3"/><circle cx="14.7" cy="27.3" r="1" fill="#333"/><circle cx="45" cy="27.3" r="1" fill="#fff" stroke="#ccc" stroke-width=".3"/><circle cx="74" cy="27.3" r="1" fill="#fff" stroke="#ccc" stroke-width=".3"/><circle cx="102" cy="27.3" r="1" fill="#fff" stroke="#ccc" stroke-width=".3"/>
<text class="lbm" x="15" y="34.3">ADDRESS</text><text class="lbm" x="45" y="34.3">DELIVERY</text><text class="lbm" x="74" y="34.3">PAYMENT</text><text class="lbm" x="102" y="34.3">ORDER</text>
<text class="lb" x="7" y="47">NAME</text><rect x="7" y="51.6" width="102" height="15.4" rx=".8" class="o"/><text x="12" y="59.3" class="in">John Doe</text>
<text class="lb" x="7" y="80.7">ADDRESS</text><rect x="7" y="85" width="102" height="15.3" rx=".8" class="o"/><text x="12" y="92.7" class="in">Street 1</text><rect x="7" y="105" width="102" height="15.3" rx=".8" class="o"/><text x="12" y="112.7" class="in">Street 2</text><rect x="7" y="125" width="102" height="15.3" rx=".8" class="o"/><text x="12" y="132.7" class="in">City</text><rect x="7" y="145" width="50.7" height="15.3" rx=".8" class="o"/><text x="12" y="152.7" class="in">State</text><rect x="67" y="145" width="42" height="15.3" rx=".8" class="o"/><text x="72" y="152.7" class="in">Zipcode</text>
<text class="lb" x="7" y="173.7">PHONE</text><rect x="7" y="178" width="102" height="15" rx=".8" class="o"/>
<use href="#cv"/><rect x="7" y="185.7" width="102" height="15.3" class="d"/><text class="w nx" x="58" y="193.3">NEXT</text></g></g>

<g id="checkout-delivery"><text class="t" x="1871.5" y="1172.7">Checkout - Delivery</text>
<g transform="translate(1813,1188.7)"><use href="#sc"/><use href="#ar" x="7" y="13.3"/><text class="h" x="58.7" y="13">DELIVERY</text><use href="#x" x="109.4" y="13.3"/>
<use href="#pg" y="27.3"/><circle cx="14.7" cy="27.3" r="1" fill="#333"/><circle cx="45" cy="27.3" r="1" fill="#333"/><circle cx="74" cy="27.3" r="1" fill="#fff" stroke="#ccc" stroke-width=".3"/><circle cx="102" cy="27.3" r="1" fill="#fff" stroke="#ccc" stroke-width=".3"/>
<text class="lbm" x="15" y="34.3">ADDRESS</text><text class="lbm" x="45" y="34.3">DELIVERY</text><text class="lbm" x="74" y="34.3">PAYMENT</text><text class="lbm" x="102" y="34.3">ORDER</text>
<text class="lb" x="7.4" y="47">DATE</text>
<g class="f"><rect x="7.4" y="52.3" width="16" height="17.7"/><rect x="24.5" y="52.3" width="16" height="17.7"/><rect x="58.7" y="52.3" width="16" height="17.7"/><rect x="75.8" y="52.3" width="16" height="17.7"/><rect x="92.9" y="52.3" width="16.5" height="17.7"/></g><rect x="41.6" y="52.3" width="16" height="17.7" class="d"/>
<text class="dn" x="15.4" y="59.3">15</text><text class="dn" x="32.5" y="59.3">16</text><text class="dn" x="49.6" y="59.3" style="fill:#fff">17</text><text class="dn" x="66.7" y="59.3">18</text><text class="dn" x="83.8" y="59.3">19</text><text class="dn" x="101" y="59.3">20</text>
<text class="m" x="15.4" y="66.7">WED</text><text class="m" x="32.5" y="66.7">THU</text><text class="m" x="49.6" y="66.7" style="fill:#fff">FRI</text><text class="m" x="66.7" y="66.7">SAT</text><text class="m" x="83.8" y="66.7">SUN</text><text class="m" x="101" y="66.7">MON</text>
<text class="lb" x="7.4" y="81">TIME</text>
<rect x="7.4" y="87.3" width="102" height="18.4" class="f"/><rect x="7.4" y="109" width="102" height="18.4" class="d"/><rect x="7.4" y="130.6" width="102" height="18.4" class="f"/><rect x="7.4" y="152.3" width="102" height="18.4" class="f"/><rect x="7.4" y="174" width="102" height="18.4" class="f"/>
<text x="15.6" y="96.5" class="tm" xml:space="preserve">8:00AM  -  10:00AM</text><text x="15.6" y="118.2" class="tm" style="fill:#e8e8e8" xml:space="preserve">10:00AM  -  12:00AM</text><text x="15.6" y="139.8" class="tm" xml:space="preserve">12:00AM  -  2:00PM</text><text x="15.6" y="161.5" class="tm" xml:space="preserve">2:00PM  -  4:00PM</text><text x="15.6" y="183.2" class="tm" xml:space="preserve">4:00PM  -  6:00PM</text>
<use href="#cv"/><rect x="7.4" y="185.7" width="102" height="15.3" class="d"/><text class="w nx" x="58.4" y="193.3">NEXT</text></g></g>

<g id="checkout-payment"><text class="t" x="2028" y="1172.7">Checkout - Payment</text>
<g transform="translate(1969,1188.7)"><use href="#sc"/><use href="#ar" x="7.6" y="13.3"/><text class="h" x="58.7" y="13">PAYMENT</text><use href="#x" x="109.8" y="13.3"/>
<use href="#pg" y="27.3"/><circle cx="15.3" cy="27.3" r="1" fill="#333"/><circle cx="45.3" cy="27.3" r="1" fill="#333"/><circle cx="74.4" cy="27.3" r="1" fill="#333"/><circle cx="102.4" cy="27.3" r="1" fill="#fff" stroke="#ccc" stroke-width=".3"/>
<text class="lbm" x="15.3" y="34.3">ADDRESS</text><text class="lbm" x="45.3" y="34.3">DELIVERY</text><text class="lbm" x="74.4" y="34.3">PAYMENT</text><text class="lbm" x="102.4" y="34.3">ORDER</text>
<text class="lb" x="8" y="47">CARD NUMBER</text><rect x="8" y="51.6" width="68.3" height="15.4" rx=".8" class="o"/><text class="m in" x="17.6" y="59.3">1234</text><text class="m in" x="33.4" y="59.3">5678</text><text class="m in" x="49" y="59.3">9012</text><text class="m in" x="65" y="59.3">3456</text>
<rect x="78.8" y="51.6" width="31.5" height="15.4" rx=".8" class="o"/><text class="m" x="94.6" y="59.3" style="font-family:Lato,sans-serif;font-weight:900;font-size:7.5px;fill:#555">VISA</text>
<text class="lb" x="8" y="80.7">CARDHOLDER NAME</text><rect x="8" y="85" width="102" height="15.3" rx=".8" class="o"/><text x="13" y="92.7" class="in">John Doe</text>
<text class="lb" x="8" y="114.3">EXPIRE DATE</text><text class="lb" x="43" y="114.3">CVV</text><rect x="8" y="118.7" width="32" height="15.3" rx=".8" class="o"/><rect x="43" y="118.7" width="17.5" height="15.3" rx=".8" class="o"/><text class="m in" x="24.7" y="126.4" xml:space="preserve">05  /  21</text><text class="m in" x="51.7" y="126.4">123</text>
<rect x="8" y="147" width="4" height="4.4" rx=".5" class="o"/><text class="lb" x="15" y="149">SAVE CARD</text>
<rect x="8" y="185.7" width="102" height="15.3" class="d"/><text class="w nx" x="59" y="193.3">NEXT</text></g></g>

<g id="checkout-order"><text class="t" x="2184" y="1172.7">Checkout - Order</text>
<g transform="translate(2125.7,1188.7)"><use href="#sc"/><use href="#ar" x="7" y="13.3"/><text class="h" x="58.7" y="13">REVIEW &amp; ORDER</text><use href="#x" x="109.8" y="13.3"/>
<use href="#pg" y="27.3"/><circle cx="15" cy="27.3" r="1" fill="#333"/><circle cx="45" cy="27.3" r="1" fill="#333"/><circle cx="74" cy="27.3" r="1" fill="#333"/><circle cx="102" cy="27.3" r="1" fill="#333"/>
<text class="lbm" x="15" y="34.3">ADDRESS</text><text class="lbm" x="45" y="34.3">DELIVERY</text><text class="lbm" x="74" y="34.3">PAYMENT</text><text class="lbm" x="102" y="34.3">ORDER</text>
<rect x="7.4" y="45.7" width="102" height="35" rx=".6" class="o"/><rect x="7.4" y="83.6" width="102" height="28" rx=".6" class="o"/><rect x="7.4" y="114.3" width="102" height="28" rx=".6" class="o"/><rect x="7.4" y="145" width="102" height="48" rx=".6" class="o"/>
<text class="g" x="15" y="54.7" style="font-size:3px">SHIPPING TO</text><text x="15" y="64">100 Brown St. Greenville,</text><text x="15" y="71.7">NY 10123</text><use href="#pn" x="99.6" y="54"/>
<text class="g" x="15" y="92.6" style="font-size:3px">PAYMENT DETAILS</text><text x="15" y="102">XXXX - XXXX - XXXX - 3456</text><use href="#pn" x="99.6" y="92"/>
<text class="g" x="15" y="123.3" style="font-size:3px">DELIVERY</text><text x="15" y="132.6" xml:space="preserve">FRIDAY 2/21,  2:30 PM</text><use href="#pn" x="99.6" y="123"/>
<text class="g" x="15" y="154" style="font-size:3px">ORDER</text><use href="#pn" x="99.6" y="153.5"/><rect x="15" y="161" width="12.5" height="12.4" fill="#b6bbbf"/><text x="32.3" y="163.3" class="sb">Frozen Steamed Broccoli</text><text x="32.3" y="171">$ 5.50</text><text class="g" x="102" y="171" text-anchor="end">Qty: 2</text><rect x="15" y="180" width="12.5" height="3" fill="#b6bbbf"/>
<use href="#cv"/><rect x="7.4" y="185.7" width="102" height="15.3" class="d"/><text class="w nx" x="58.4" y="193.3" style="font-size:3.4px">PLACE ORDER</text></g></g>
</svg>
